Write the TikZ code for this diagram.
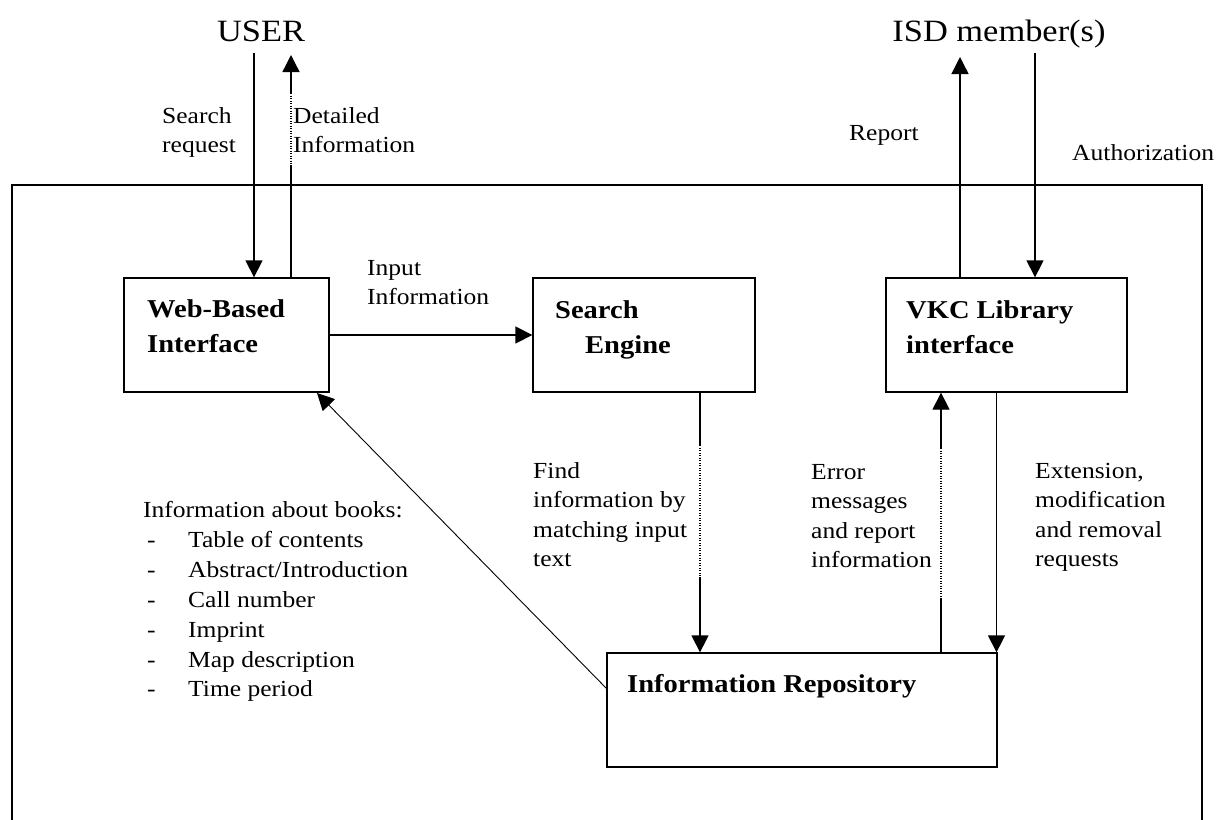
\documentclass[tikz,border=0pt]{standalone}
\usepackage{fontspec}
\setmainfont{Liberation Serif}[FakeStretch=1.11]
\usetikzlibrary{arrows.meta,calc}
\tikzset{
  box/.style={draw, line width=1.3pt, inner sep=0pt, minimum height=114pt},
  arr/.style={line width=1.3pt, -{Triangle[width=17pt,length=17pt]}},
  lab/.style={inner sep=0pt, anchor=base west, align=left, font=\fontsize{23}{29.5}\selectfont},
  blab/.style={inner sep=0pt, anchor=base west, font=\fontsize{25.7}{35}\selectfont\bfseries},
  big/.style={inner sep=0pt, anchor=base, font=\fontsize{31}{36}\selectfont},
  gap/.style={white, line width=2.4pt},
  dots/.style={line width=1.3pt, dash pattern=on 1.2pt off 1.3pt},
  frame/.style={line width=1.3pt}
}
\begin{document}
\begin{tikzpicture}[x=1pt,y=-1pt]
\useasboundingbox (0,0) rectangle (1217,819);
% outer frame (open at the bottom)
\coordinate (fbl) at (12,830);
\coordinate (ftl) at (12,185);
\coordinate (ftr) at (1202,185);
\coordinate (fbr) at (1202,830);
\draw[frame] (fbl) -- (ftl) -- (ftr) -- (fbr);

% boxes
\node[box, minimum width=205pt] (web) at (226.5,335) {};
\node[box, minimum width=222pt] (se) at (644,335) {};
\node[box, minimum width=241pt] (vkc) at (1006.5,335) {};
\node[box, minimum width=390pt] (repo) at (802,710) {};

% box labels
\node[blab] (webt1) at (147,317) {Web-Based};
\node[blab] (webt2) at (147,352) {Interface};
\node[blab] (set1) at (555,318) {Search};
\node[blab] (set2) at (585,353) {Engine};
\node[blab] (vkct1) at (906,318) {VKC Library};
\node[blab] (vkct2) at (906,353) {interface};
\node[blab] (repot) at (627,692) {Information Repository};

% actors
\node[big] (user) at (261,41) {USER};
\node[big] (isd) at (999,41) {ISD member(s)};

% helper coordinates
\coordinate (u1) at (254,53);
\coordinate (u2) at (291,55);
\coordinate (i1) at (960,57);
\coordinate (i2) at (1035,53);
\coordinate (sx) at (700,0);
\coordinate (ex) at (941,0);
\coordinate (xx) at (996.5,0);
\coordinate (dstart) at (607,689);
\coordinate (dend) at (317,393);

% connectors
\draw[arr] (u1) -- (web.north -| u1);
\draw[arr] (web.north -| u2) -- (u2);
\draw[arr] (web.east) -- (se.west);
\draw[arr] (se.south -| sx) -- (repo.north -| sx);
\draw[arr] (vkc.north -| i1) -- (i1);
\draw[arr] (i2) -- (vkc.north -| i2);
\draw[arr] (repo.north -| ex) -- (vkc.south -| ex);
\draw[arr] (vkc.south -| xx) -- (repo.north -| xx);
\draw[arr, line width=0.9pt] (dstart) -- (dend);

% dotted stretches of some connectors
\coordinate (d1a) at (291,93);  \coordinate (d1b) at (291,165);
\coordinate (d2a) at (700,445); \coordinate (d2b) at (700,577);
\coordinate (d3a) at (941,448); \coordinate (d3b) at (941,598);
\draw[gap] (d1a) -- (d1b); \draw[dots] (d1a) -- (d1b);
\draw[gap] (d2a) -- (d2b); \draw[dots] (d2a) -- (d2b);
\draw[gap] (d3a) -- (d3b); \draw[dots] (d3a) -- (d3b);

% labels (anchor at the baseline of the last line)
\node[lab] (l1) at (162,152.5) {Search\\request};
\node[lab] (l2) at (293,152.5) {Detailed\\Information};
\node[lab] (l3) at (367,304.5) {Input\\Information};
\node[lab] (l4) at (849,140) {Report};
\node[lab] (l5) at (1072,160) {Authorization};
\node[lab] (l6) at (533,566.5) {Find\\information by\\matching input\\text};
\node[lab] (l7) at (811,567.5) {Error\\messages\\and report\\information};
\node[lab] (l8) at (1035,566.5) {Extension,\\modification\\and removal\\requests};
\node[lab] (l9) at (143,517) {Information about books:};
\node[lab] (b1) at (147,547) {-};
\node[lab] (b2) at (147,577) {-};
\node[lab] (b3) at (147,607) {-};
\node[lab] (b4) at (147,637) {-};
\node[lab] (b5) at (147,667) {-};
\node[lab] (b6) at (147,696) {-};
\node[lab] (t1) at (188,547) {Table of contents};
\node[lab] (t2) at (188,577) {Abstract/Introduction};
\node[lab] (t3) at (188,607) {Call number};
\node[lab] (t4) at (188,637) {Imprint};
\node[lab] (t5) at (188,667) {Map description};
\node[lab] (t6) at (188,696) {Time period};
\end{tikzpicture}
\end{document}
